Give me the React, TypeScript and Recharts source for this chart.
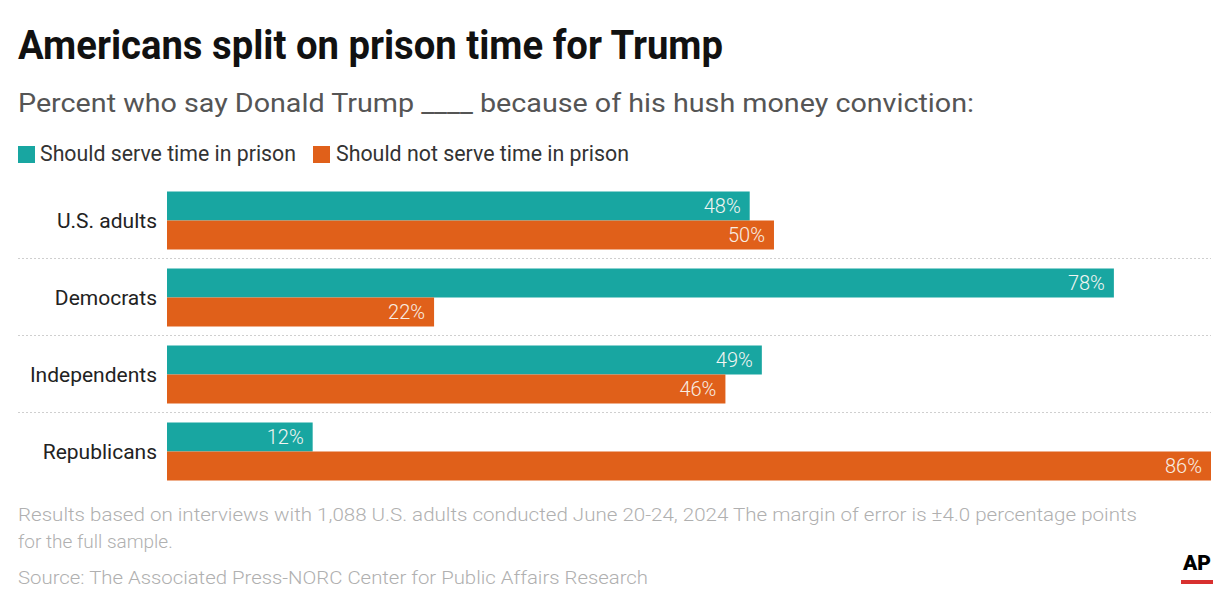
import React from 'react';
import { BarChart, Bar, XAxis, YAxis, LabelList } from 'recharts';

const groups = ['U.S. adults', 'Democrats', 'Independents', 'Republicans'];
const shouldServe = [48, 78, 49, 12];
const shouldNotServe = [50, 22, 46, 86];

const TEAL = '#18a6a1';
const ORANGE = '#e0601a';
const FONT = 'Roboto, "Noto Sans", sans-serif';

const W = 1230;
const H = 610;
const MARGIN = { top: 181.5, right: 19, bottom: 120.5, left: 17 };
const Y_AXIS_WIDTH = 150;

const data = groups.map((name, i) => ({
  name,
  serve: shouldServe[i],
  notServe: shouldNotServe[i],
}));

// category label + dotted divider above each group after the first
function GroupTick(props: any) {
  const { x, y, payload, index } = props;
  const half = payload && payload.offset ? payload.offset : 38.5;
  return (
    <g>
      {index > 0 && (
        <line
          x1={18}
          x2={W - MARGIN.right}
          y1={y - half}
          y2={y - half}
          stroke="#cfcfcf"
          strokeWidth={1}
          strokeDasharray="2 2"
        />
      )}
      <text x={x} y={y} dy={8} textAnchor="end" fontFamily={FONT} fontSize={21} fill="#222">
        {payload.value}
      </text>
    </g>
  );
}

const pct = (v: any) => `${v}%`;

export default function App() {
  return (
    <div style={{ position: 'absolute', left: 0, top: 0, width: W, height: H, background: '#fff' }}>
      <svg width={W} height={H} style={{ position: 'absolute', left: 0, top: 0 }}>
        <text x={18} y={59} fontFamily={FONT} fontWeight={700} fontSize={40} fill="#111" textLength={705} lengthAdjust="spacingAndGlyphs">
          Americans split on prison time for Trump
        </text>
        <text x={18} y={112} fontFamily={FONT} fontWeight={400} fontSize={26} fill="#555" textLength={956} lengthAdjust="spacingAndGlyphs">
          Percent who say Donald Trump ____ because of his hush money conviction:
        </text>
        <rect x={18} y={146} width={17} height={17} fill={TEAL} />
        <text x={40} y={161} fontFamily={FONT} fontSize={22} fill="#333" textLength={256} lengthAdjust="spacingAndGlyphs">
          Should serve time in prison
        </text>
        <rect x={313} y={146} width={17} height={17} fill={ORANGE} />
        <text x={336} y={161} fontFamily={FONT} fontSize={22} fill="#333" textLength={293} lengthAdjust="spacingAndGlyphs">
          Should not serve time in prison
        </text>

        <text x={18} y={521} fontFamily={FONT} fontWeight={300} fontSize={19} fill="#b0b0b0" textLength={1119} lengthAdjust="spacingAndGlyphs">
          Results based on interviews with 1,088 U.S. adults conducted June 20-24, 2024 The margin of error is ±4.0 percentage points
        </text>
        <text x={18} y={548} fontFamily={FONT} fontWeight={300} fontSize={19} fill="#b0b0b0">
          for the full sample.
        </text>
        <text x={18} y={584} fontFamily={FONT} fontWeight={300} fontSize={19} fill="#b0b0b0" textLength={630} lengthAdjust="spacingAndGlyphs">
          Source: The Associated Press-NORC Center for Public Affairs Research
        </text>

        <text x={1183} y={570} fontFamily={FONT} fontWeight={900} fontSize={20} fill="#000" textLength={28} lengthAdjust="spacingAndGlyphs">
          AP
        </text>
        <rect x={1181} y={580} width={32} height={4} fill="#d8302f" />
      </svg>

      <div style={{ position: 'absolute', left: 0, top: 0 }}>
        <BarChart
          width={W}
          height={H}
          data={data}
          layout="vertical"
          margin={MARGIN}
          barSize={29}
          barGap={0}
        >
          <XAxis type="number" domain={[0, 86]} hide />
          <YAxis
            type="category"
            dataKey="name"
            width={Y_AXIS_WIDTH}
            axisLine={false}
            tickLine={false}
            tickSize={8}
            tickMargin={2}
            tick={<GroupTick />}
            interval={0}
          />
          <Bar dataKey="serve" fill={TEAL} isAnimationActive={false}>
            <LabelList dataKey="serve" position="insideRight" offset={9} formatter={pct} fill="#f2f5f2" fontFamily={FONT} fontWeight={300} fontSize={20} />
          </Bar>
          <Bar dataKey="notServe" fill={ORANGE} isAnimationActive={false}>
            <LabelList dataKey="notServe" position="insideRight" offset={9} formatter={pct} fill="#f8eee4" fontFamily={FONT} fontWeight={300} fontSize={20} />
          </Bar>
        </BarChart>
      </div>
    </div>
  );
}
